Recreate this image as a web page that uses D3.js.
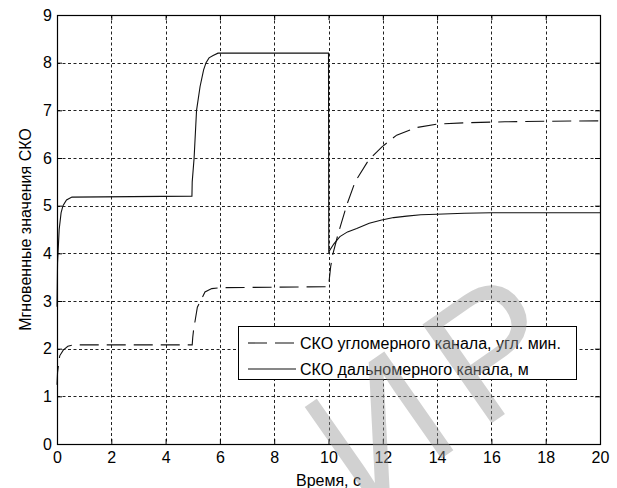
<!DOCTYPE html>
<html>
<head>
<meta charset="utf-8">
<script src="https://cdn.jsdelivr.net/npm/d3@7"></script>
<style>
  body { margin: 0; background: #fff; }
  text { font-family: "Liberation Sans", Arial, sans-serif; }
</style>
</head>
<body>
<svg id="chart" width="617" height="488"></svg>
<script>
// data
const solidT = [0, 0.02, 0.08, 0.15, 0.22, 0.35, 0.55, 4.97, 4.98, 5.05, 5.14, 5.27, 5.4, 5.49, 5.6, 5.75, 5.93,
  10.0, 10.01, 10.2, 10.42, 10.7, 11.04, 11.5, 11.96, 12.4, 12.88, 13.4, 13.98, 15, 16, 20];
const solidV = [2.88, 3.8, 4.5, 4.85, 5.0, 5.12, 5.18, 5.2, 5.5, 6.0, 7.0, 7.5, 7.85, 8.0, 8.1, 8.15, 8.2,
  8.2, 4.03, 4.2, 4.35, 4.45, 4.52, 4.63, 4.7, 4.75, 4.78, 4.81, 4.82, 4.84, 4.85, 4.85];

const dashT = [0, 0.02, 0.1, 0.23, 0.4, 0.6, 4.98, 5.0, 5.03, 5.17, 5.33, 5.45, 5.7, 6.0,
  10.0, 10.08, 10.15, 10.36, 10.67, 10.98, 11.47, 11.96, 12.51, 13.25, 13.98, 15.09, 16.5, 18, 20];
const dashV = [1.24, 1.5, 1.85, 1.97, 2.05, 2.08, 2.08, 2.24, 2.39, 2.87, 3.05, 3.19, 3.26, 3.28,
  3.3, 3.72, 3.96, 4.42, 5.01, 5.5, 5.95, 6.23, 6.48, 6.64, 6.71, 6.74, 6.76, 6.77, 6.78];

const xTicks = [0, 2, 4, 6, 8, 10, 12, 14, 16, 18, 20];
const yTicks = [0, 1, 2, 3, 4, 5, 6, 7, 8, 9];

const legendLabels = ["СКО угломерного канала, угл. мин.", "СКО дальномерного канала, м"];
const xTitle = "Время, с";
const yTitle = "Мгновенные значения СКО";

const svg = d3.select("#chart");
const m = { left: 57, right: 600, top: 15, bottom: 444 };
const FS = 16;

const x = d3.scaleLinear().domain([0, 20]).range([m.left, m.right]);
const y = d3.scaleLinear().domain([0, 9]).range([m.bottom, m.top]);

// grid
const grid = svg.append("g")
  .attr("stroke", "#222")
  .attr("stroke-width", 1)
  .attr("stroke-dasharray", "3,2.5");
grid.selectAll(".gx").data(xTicks.slice(1, -1)).join("line")
  .attr("x1", d => Math.round(x(d)) + 0.5).attr("x2", d => Math.round(x(d)) + 0.5)
  .attr("y1", m.top).attr("y2", m.bottom);
grid.selectAll(".gy").data(yTicks.slice(1, -1)).join("line")
  .attr("y1", d => Math.round(y(d)) + 0.5).attr("y2", d => Math.round(y(d)) + 0.5)
  .attr("x1", m.left).attr("x2", m.right);

// curves
const line = d3.line().x(d => x(d[0])).y(d => y(d[1]));
svg.append("path")
  .datum(dashT.map((t, i) => [t, dashV[i]]))
  .attr("d", line)
  .attr("fill", "none").attr("stroke", "#111").attr("stroke-width", 1.1)
  .attr("stroke-dasharray", "19,8");
svg.append("path")
  .datum(solidT.map((t, i) => [t, solidV[i]]))
  .attr("d", line)
  .attr("fill", "none").attr("stroke", "#111").attr("stroke-width", 1.1);

// axes (ticks inside, all four sides)
const fmt = d3.format("d");
const axB = svg.append("g").attr("transform", `translate(0,${m.bottom})`)
  .call(d3.axisBottom(x).tickValues(xTicks).tickFormat(fmt).tickSizeInner(-5).tickSizeOuter(0).tickPadding(8));
const axT = svg.append("g").attr("transform", `translate(0,${m.top})`)
  .call(d3.axisTop(x).tickValues(xTicks).tickFormat("").tickSizeInner(-5).tickSizeOuter(0));
const axL = svg.append("g").attr("transform", `translate(${m.left},0)`)
  .call(d3.axisLeft(y).tickValues(yTicks).tickFormat(fmt).tickSizeInner(-5).tickSizeOuter(0).tickPadding(5));
const axR = svg.append("g").attr("transform", `translate(${m.right},0)`)
  .call(d3.axisRight(y).tickValues(yTicks).tickFormat("").tickSizeInner(-5).tickSizeOuter(0));
[axB, axT, axL, axR].forEach(a => {
  a.select(".domain").remove();
  a.selectAll("line").attr("stroke", "#000");
  a.selectAll("text").attr("fill", "#000").attr("font-size", FS)
    .style("font-family", "'Liberation Sans', Arial, sans-serif");
});

svg.append("rect")
  .attr("x", m.left + 0.5).attr("y", m.top + 0.5)
  .attr("width", m.right - m.left).attr("height", m.bottom - m.top)
  .attr("fill", "none").attr("stroke", "#000").attr("stroke-width", 1.2);

// titles
svg.append("text").attr("x", (m.left + m.right) / 2).attr("y", 486)
  .attr("text-anchor", "middle").attr("font-size", FS).text(xTitle);
svg.append("text")
  .attr("transform", `translate(31,${(m.top + m.bottom) / 2}) rotate(-90)`)
  .attr("text-anchor", "middle").attr("font-size", FS).text(yTitle);

// legend
const lg = svg.append("g");
lg.append("rect").attr("x", 238.5).attr("y", 326.5).attr("width", 338).attr("height", 53)
  .attr("fill", "#fff").attr("stroke", "#000").attr("stroke-width", 1);
const legendDash = ["19,8", null];
legendLabels.forEach((lab, i) => {
  const ly = 343 + i * 26;
  lg.append("line").attr("x1", 248).attr("x2", 296).attr("y1", ly).attr("y2", ly)
    .attr("stroke", "#111").attr("stroke-width", 1.1)
    .attr("stroke-dasharray", legendDash[i]);
  lg.append("text").attr("x", 300).attr("y", ly + 6).attr("font-size", FS).text(lab);
});

// watermark
svg.append("text")
  .attr("transform", "translate(362,514) rotate(-35)")
  .attr("font-size", 175).attr("letter-spacing", 18)
  .attr("fill", "#9a9a9a").attr("fill-opacity", 0.45)
  .text("ИР");
</script>
</body>
</html>
